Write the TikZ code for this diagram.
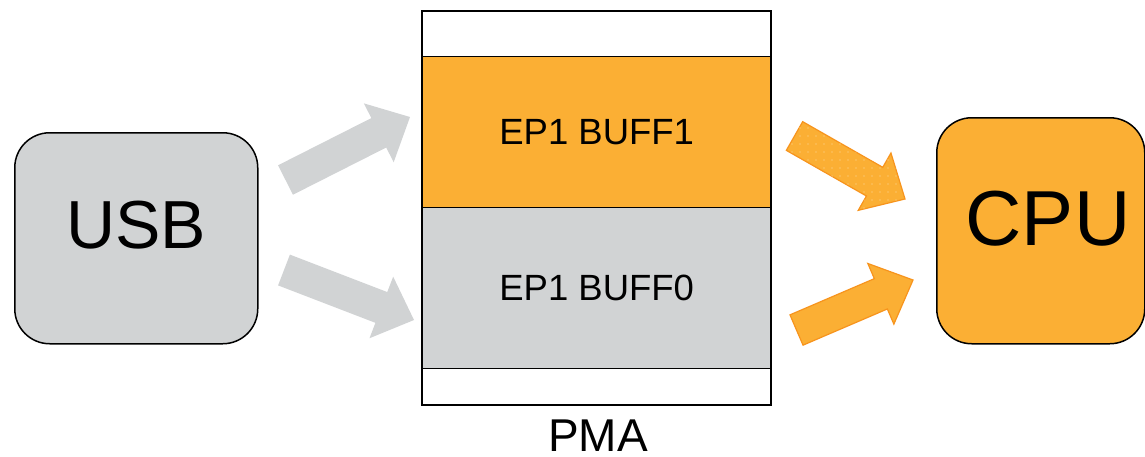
\documentclass[tikz,border=0pt]{standalone}
\usepackage{fontspec}
\setmainfont{Liberation Sans}
\usetikzlibrary{calc,patterns.meta}

\definecolor{chipgray}{HTML}{D1D3D4}
\definecolor{chiporange}{HTML}{FBAF34}
\definecolor{edgeorange}{HTML}{F7941D}

% block arrow: #1 style, #2 tail coordinate, #3 tip coordinate
\newcommand\shaftw{16.5pt}
\newcommand\headw{33pt}
\newcommand\headl{35pt}
\newcommand\blockarrow[3]{%
  \coordinate (#2-hb) at ($(#3)!\headl!(#2)$);
  \path[#1]
    ($(#2)!\shaftw!90:(#3)$) --
    ($(#2-hb)!\shaftw!90:(#3)$) --
    ($(#2-hb)!\headw!90:(#3)$) --
    (#3) --
    ($(#2-hb)!\headw!-90:(#3)$) --
    ($(#2-hb)!\shaftw!-90:(#3)$) --
    ($(#2)!\shaftw!-90:(#3)$) -- cycle;
}

\tikzset{
  unit/.style={draw=black, line width=1.5pt, rounded corners=35pt, inner sep=0pt},
  memcell/.style={draw=black, line width=1.4pt, minimum width=348pt, inner sep=0pt,
                  anchor=north west, font=\fontsize{36.5}{42}\selectfont},
  grayflow/.style={fill=chipgray},
  orangeflow/.style={fill=chiporange, draw=edgeorange, line width=1.2pt, line join=miter},
  dotted flow/.style={postaction={pattern={Dots[radius=0.6pt, distance=8pt]},
                      pattern color=white!55!chiporange}},
}

\begin{document}
\begin{tikzpicture}[x=1pt, y=-1pt]
  \useasboundingbox (0,0) rectangle (1145,456);

  % source and sink units
  \node[unit, fill=chipgray, minimum width=243pt, minimum height=211pt,
        anchor=north west] (usb) at (14,132) {};
  \node[anchor=base, font=\fontsize{68}{80}\selectfont] (usbtext)
        at ($(usb.center)+(0,10.5)$) {USB};

  \node[unit, fill=chiporange, minimum width=208pt, minimum height=226pt,
        anchor=north west] (cpu) at (936,117) {};
  \node[anchor=base, font=\fontsize{78}{90}\selectfont] (cputext)
        at (1048,245) {CPU};

  % packet memory area with its two buffers
  \node[memcell, fill=white, minimum height=45pt] (pmatop) at (422,11) {};
  \node[memcell, fill=chiporange, minimum height=151pt] (buff1) at (422,56) {EP1 BUFF1};
  \node[memcell, fill=chipgray, minimum height=161pt] (buff0) at (422,207) {EP1 BUFF0};
  \node[memcell, fill=white, minimum height=36pt] (pmabot) at (422,368) {};
  \draw[line width=1.5pt] (pmatop.north west) rectangle (pmabot.south east);
  \node[anchor=base, inner sep=0pt, font=\fontsize{46}{54}\selectfont] (pma)
        at (598,451) {PMA};

  % flow arrows
  \coordinate (g1t) at (285.5,180);  \coordinate (g1h) at (410,117);
  \coordinate (g2t) at (284,270);    \coordinate (g2h) at (414,320);
  \coordinate (o1t) at (794.5,136);  \coordinate (o1h) at (905,199);
  \coordinate (o2t) at (796.5,330);  \coordinate (o2h) at (913,280);

  \blockarrow{grayflow}{g1t}{g1h}
  \blockarrow{grayflow}{g2t}{g2h}
  \blockarrow{orangeflow, dotted flow}{o1t}{o1h}
  \blockarrow{orangeflow}{o2t}{o2h}
\end{tikzpicture}
\end{document}
